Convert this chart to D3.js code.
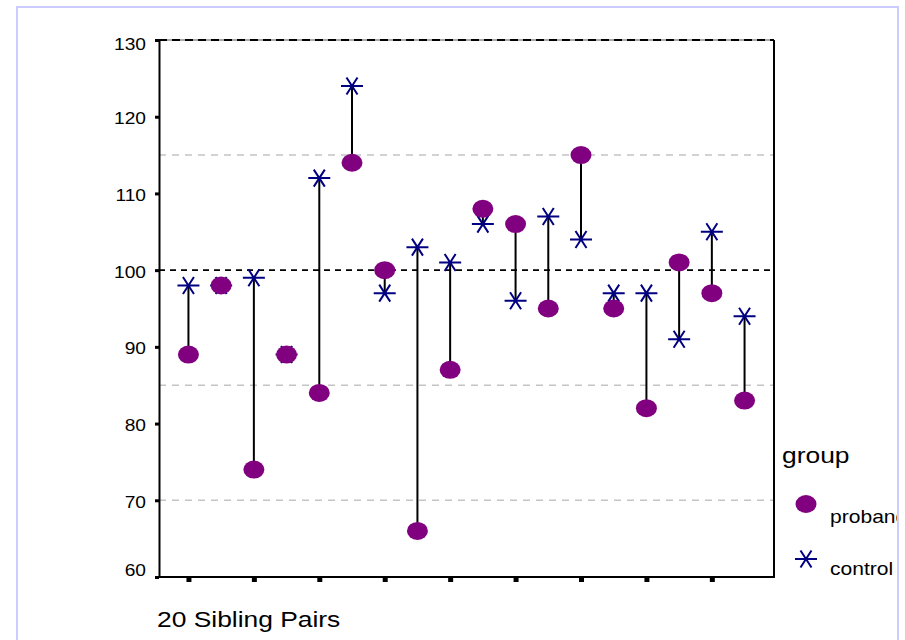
<!DOCTYPE html>
<html>
<head>
<meta charset="utf-8">
<script src="https://cdn.jsdelivr.net/npm/d3@7"></script>
<style>
  html, body { margin: 0; padding: 0; background: #fff; }
  svg { display: block; font-family: "Liberation Sans", Arial, sans-serif; }
</style>
</head>
<body>
<svg id="chart" width="905" height="640"></svg>
<script>
// Sibling pairs: proband score vs. matched control score
const pairs    = [1, 2, 3, 4, 5, 6, 7, 8, 9, 10, 11, 12, 13, 14, 15, 16, 17, 18];
const proband  = [89, 98, 74, 89, 84, 114, 100, 66, 87, 108, 106, 95, 115, 95, 82, 101, 97, 83];
const control  = [98, 98, 99, 89, 112, 124, 97, 103, 101, 106, 96, 107, 104, 97, 97, 91, 105, 94];
const yTicks   = [60, 70, 80, 90, 100, 110, 120, 130];
const xTicks   = [1, 3, 5, 7, 9, 11, 13, 15, 17];
const refBlack = [100];
const refGray  = [115, 85, 70];
const groups   = ["proband", "control"];

const svg = d3.select("#chart");
const W = 905;

const x = d3.scaleLinear().domain([0.1, 18.9]).range([159, 774]);
const y = d3.scaleLinear().domain([60, 130]).range([577, 40]);

const PURPLE = "#800080";
const NAVY = "#000080";

// everything inside the lavender frame is clipped to it
svg.append("clipPath").attr("id", "frameClip")
  .append("rect").attr("x", 18).attr("y", 8).attr("width", 879).attr("height", 640);
const root = svg.append("g").attr("clip-path", "url(#frameClip)");

// horizontally widened text helper
function wideText(g, str, tx, ty, size, sx, anchor) {
  return g.append("text")
    .attr("transform", `translate(${tx},${ty}) scale(${sx},1)`)
    .attr("font-size", size)
    .attr("text-anchor", anchor || "start")
    .attr("fill", "#000")
    .text(str);
}

const [x0, x1] = x.range();
const [yb, yt] = y.range();

// reference lines
root.selectAll("line.ref-gray").data(refGray).join("line")
  .attr("class", "ref-gray")
  .attr("x1", x0).attr("x2", x1)
  .attr("y1", d => y(d)).attr("y2", d => y(d))
  .attr("stroke", "#c4c4c4").attr("stroke-width", 1.6)
  .attr("stroke-dasharray", "7,6");

root.selectAll("line.ref-black").data(refBlack).join("line")
  .attr("class", "ref-black")
  .attr("x1", x0).attr("x2", x1)
  .attr("y1", d => y(d)).attr("y2", d => y(d))
  .attr("stroke", "#000").attr("stroke-width", 1.8)
  .attr("stroke-dasharray", "6,5");

// top edge of the plot: grey line with black dashes over it
root.append("line")
  .attr("x1", x0).attr("x2", x1).attr("y1", yt).attr("y2", yt)
  .attr("stroke", "#aaa").attr("stroke-width", 2);
root.append("line")
  .attr("x1", x0).attr("x2", x1).attr("y1", yt).attr("y2", yt)
  .attr("stroke", "#000").attr("stroke-width", 2)
  .attr("stroke-dasharray", "8,5");

// right edge
root.append("line")
  .attr("x1", x1).attr("x2", x1).attr("y1", yt).attr("y2", yb)
  .attr("stroke", "#000").attr("stroke-width", 2);

// y axis
const yAxis = d3.axisLeft(y).tickValues(yTicks).tickSize(4).tickSizeOuter(0).tickFormat(d3.format("d"));
const gy = root.append("g").attr("transform", `translate(${x0},0)`).call(yAxis);
gy.select(".domain").attr("stroke", "#000").attr("stroke-width", 2);
gy.selectAll(".tick line").attr("stroke", "#000").attr("stroke-width", 3);
gy.selectAll(".tick text").remove();
gy.selectAll(".tick").each(function (d) {
  const base = Math.min(Math.max(y(d) + 7, yt + 9.5), yb - 2);
  wideText(d3.select(this), String(d), -13, base - y(d), 17, 1.13, "end");
});

// x axis
const xAxis = d3.axisBottom(x).tickValues(xTicks).tickSize(5).tickSizeOuter(0).tickFormat("");
const gx = root.append("g").attr("transform", `translate(0,${yb})`).call(xAxis);
gx.select(".domain").attr("stroke", "#000").attr("stroke-width", 2)
  .attr("d", `M${x0 - 3},0H${x1 + 1}`);
gx.selectAll(".tick line").attr("stroke", "#000").attr("stroke-width", 5);

wideText(root, "20 Sibling Pairs", 157, 627, 22, 1.2);

// pair connectors
const rows = pairs.map((p, i) => ({ p, a: proband[i], b: control[i] }));
root.selectAll("line.pair").data(rows).join("line")
  .attr("class", "pair")
  .attr("x1", d => x(d.p)).attr("x2", d => x(d.p))
  .attr("y1", d => y(d.a)).attr("y2", d => y(d.b))
  .attr("stroke", "#000").attr("stroke-width", 2);

// asterisk marker path (horizontal bar + two diagonals)
const starPath = "M-11,0H11M-5.5,-8.5L5.5,8.5M5.5,-8.5L-5.5,8.5";

root.selectAll("path.control").data(rows).join("path")
  .attr("class", "control")
  .attr("transform", d => `translate(${x(d.p)},${y(d.b)})`)
  .attr("d", starPath)
  .attr("fill", "none").attr("stroke", NAVY).attr("stroke-width", 2);

root.selectAll("ellipse.proband").data(rows).join("ellipse")
  .attr("class", "proband")
  .attr("cx", d => x(d.p)).attr("cy", d => y(d.a))
  .attr("rx", 10.5).attr("ry", 9)
  .attr("fill", PURPLE);

// legend
const lg = root.append("g");
wideText(lg, "group", 782, 463, 22, 1.2);
lg.append("ellipse").attr("cx", 806).attr("cy", 504).attr("rx", 10.5).attr("ry", 9).attr("fill", PURPLE);
wideText(lg, groups[0], 830, 523, 18, 1.17);
lg.append("path").attr("transform", "translate(806,559)").attr("d", starPath)
  .attr("fill", "none").attr("stroke", NAVY).attr("stroke-width", 2);
wideText(lg, groups[1], 830, 575, 18, 1.17);

// outer lavender frame
svg.append("rect")
  .attr("x", 17).attr("y", 7).attr("width", 881).attr("height", 700)
  .attr("fill", "none").attr("stroke", "#ccccff").attr("stroke-width", 2);
</script>
</body>
</html>
